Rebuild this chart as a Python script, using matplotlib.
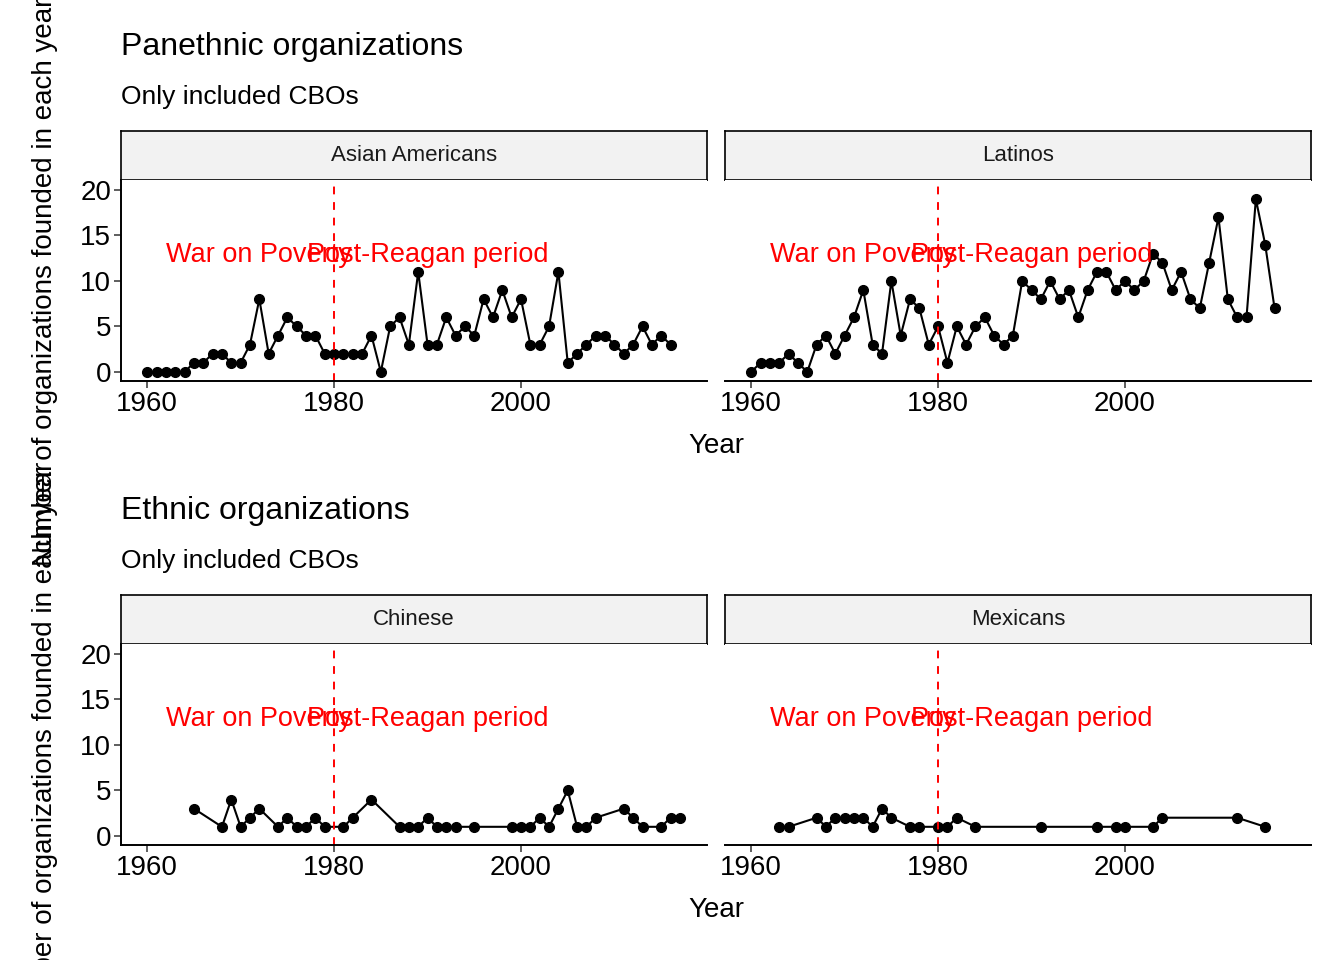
import matplotlib
matplotlib.use('Agg')
import matplotlib.pyplot as plt

asian_years = list(range(1960, 2017))
asian_counts = [0, 0, 0, 0, 0, 1, 1, 2, 2, 1, 1, 3, 8, 2, 4, 6, 5, 4, 4, 2,
                2, 2, 2, 2, 4, 0, 5, 6, 3, 11, 3, 3, 6, 4, 5, 4, 8, 6, 9, 6,
                8, 3, 3, 5, 11, 1, 2, 3, 4, 4, 3, 2, 3, 5, 3, 4, 3]

latino_years = list(range(1960, 2017))
latino_counts = [0, 1, 1, 1, 2, 1, 0, 3, 4, 2, 4, 6, 9, 3, 2, 10, 4, 8, 7, 3,
                 5, 1, 5, 3, 5, 6, 4, 3, 4, 10, 9, 8, 10, 8, 9, 6, 9, 11, 11, 9,
                 10, 9, 10, 13, 12, 9, 11, 8, 7, 12, 17, 8, 6, 6, 19, 14, 7]

chinese_years = [1965, 1968, 1969, 1970, 1971, 1972, 1974, 1975, 1976, 1977, 1978, 1979,
                 1981, 1982, 1984, 1987, 1988, 1989, 1990, 1991, 1992, 1993, 1995,
                 1999, 2000, 2001, 2002, 2003, 2004, 2005, 2006, 2007, 2008, 2011,
                 2012, 2013, 2015, 2016, 2017]
chinese_counts = [3, 1, 4, 1, 2, 3, 1, 2, 1, 1, 2, 1,
                  1, 2, 4, 1, 1, 1, 2, 1, 1, 1, 1,
                  1, 1, 1, 2, 1, 3, 5, 1, 1, 2, 3,
                  2, 1, 1, 2, 2]

mexican_years = [1963, 1964, 1967, 1968, 1969, 1970, 1971, 1972, 1973, 1974, 1975,
                 1977, 1978, 1980, 1981, 1982, 1984, 1991, 1997, 1999, 2000, 2003,
                 2004, 2012, 2015]
mexican_counts = [1, 1, 2, 1, 2, 2, 2, 2, 1, 3, 2,
                  1, 1, 1, 1, 2, 1, 1, 1, 1, 1, 1,
                  2, 2, 1]

rows = [
    ("Panethnic organizations", [("Asian Americans", asian_years, asian_counts),
                                 ("Latinos", latino_years, latino_counts)]),
    ("Ethnic organizations", [("Chinese", chinese_years, chinese_counts),
                              ("Mexicans", mexican_years, mexican_counts)]),
]

W, H = 1344, 960
fig = plt.figure(figsize=(13.44, 9.6), dpi=100)
plt.rcParams['font.family'] = ['Liberation Sans', 'DejaVu Sans']

def box(x0, y0, x1, y1):
    return [x0 / W, 1 - y1 / H, (x1 - x0) / W, (y1 - y0) / H]

row_off = [0, 464]
col_x = [(121, 707), (725, 1311)]

for r, (title, facets) in enumerate(rows):
    dy = row_off[r]
    fig.text(121 / W, 1 - (47 + dy) / H, title, fontsize=23, va='center', ha='left')
    fig.text(121 / W, 1 - (97 + dy) / H, "Only included CBOs", fontsize=19, va='center', ha='left')
    fig.text(45 / W, 1 - (282 + dy) / H, "Number of organizations founded in each year",
             fontsize=20, rotation=90, va='center', ha='center')
    fig.text(716 / W, 1 - (446 + dy) / H, "Year", fontsize=20, va='center', ha='center')
    for c, (name, xs, ys) in enumerate(facets):
        x0, x1 = col_x[c]
        strip = fig.add_axes(box(x0, 131 + dy, x1, 180 + dy))
        strip.set_facecolor('#f2f2f2')
        strip.set_xticks([]); strip.set_yticks([])
        for s in strip.spines.values():
            s.set_linewidth(1.2)
        strip.text(0.5, 0.5, name, fontsize=16, ha='center', va='center',
                   color='#1a1a1a', transform=strip.transAxes)

        ax = fig.add_axes(box(x0, 180 + dy, x1, 381 + dy))
        ax.plot(xs, ys, color='black', lw=1.5, marker='o', ms=7)
        ax.axvline(1980, color='red', ls=(0, (4, 4)), lw=1.4)
        ax.text(1972, 12.8, "War on Poverty", color='red', fontsize=19.5, ha='center', va='center')
        ax.text(1990, 12.8, "Post-Reagan period", color='red', fontsize=19.5, ha='center', va='center')
        ax.set_xlim(1957.2, 2019.9)
        ax.set_ylim(-1.0, 21.1)
        ax.set_xticks([1960, 1980, 2000])
        ax.set_yticks([0, 5, 10, 15, 20])
        ax.spines['top'].set_visible(False)
        ax.spines['right'].set_visible(False)
        ax.spines['left'].set_linewidth(1.4)
        ax.spines['bottom'].set_linewidth(1.4)
        ax.tick_params(labelsize=20, width=1.1, length=5, color='#333333', pad=2)
        if c == 1:
            ax.set_yticklabels([])
            ax.tick_params(axis='y', length=0)
            ax.spines['left'].set_visible(False)

fig.savefig("out.png", dpi=100)
